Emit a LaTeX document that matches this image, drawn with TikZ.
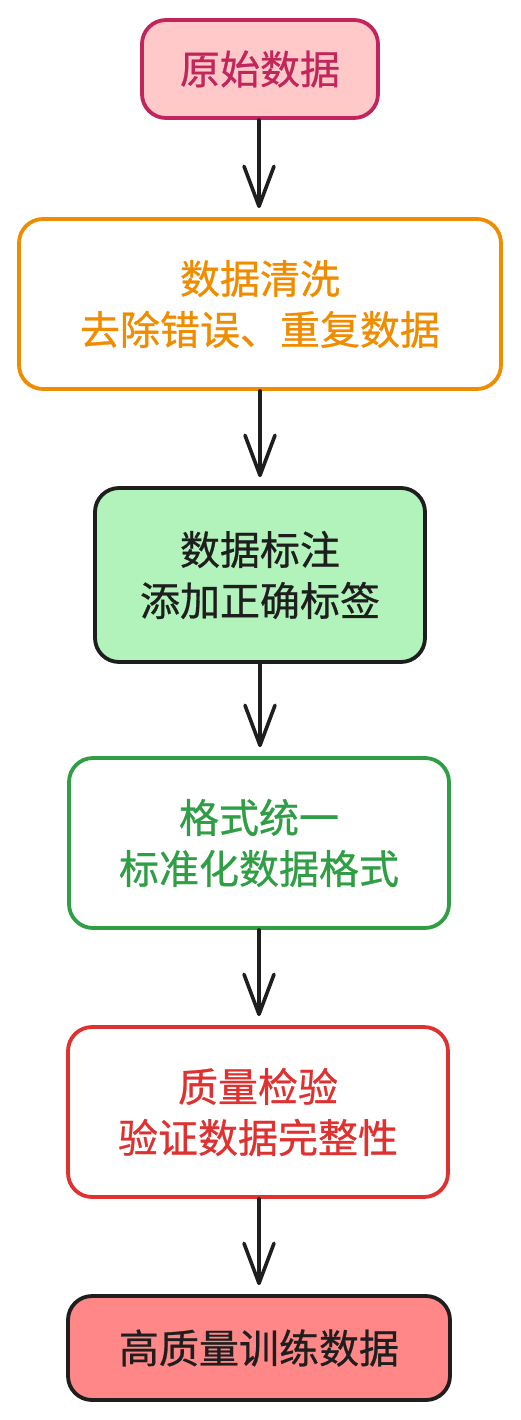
\documentclass[tikz,border=0pt]{standalone}
\usepackage{fontspec}
\newfontfamily\cjk[FakeBold=0.7]{Noto Sans CJK SC}
\usetikzlibrary{arrows.meta}
\definecolor{crimson}{HTML}{C2255C}
\definecolor{pinkfill}{HTML}{FFC9C9}
\definecolor{orangec}{HTML}{F08C00}
\definecolor{greenfill}{HTML}{B2F2BB}
\definecolor{inkc}{HTML}{1E1E1E}
\definecolor{greenc}{HTML}{2F9E44}
\definecolor{redc}{HTML}{E03131}
\definecolor{salmon}{HTML}{FF8787}
\tikzset{
  box/.style={draw, rounded corners=24pt, line width=3.8pt, align=center,
    font=\cjk\fontsize{40pt}{51pt}\selectfont, inner sep=0pt},
  flow/.style={draw=inkc, line width=3.6pt, line cap=round,
    -{Straight Barb[length=40pt,width=30pt,line width=3.6pt,round]}, shorten >=9pt}
}
\begin{document}
\begin{tikzpicture}[x=1pt,y=-1pt]
\useasboundingbox[fill=white] (0,0) rectangle (520,1420);
\node[box, draw=crimson, fill=pinkfill, text=crimson, minimum width=236pt, minimum height=98pt] (n1) at (260,69) {原始数据};
\node[box, draw=orangec, fill=white, text=orangec, minimum width=482pt, minimum height=170pt] (n2) at (260,304) {数据清洗\\去除错误、重复数据};
\node[box, draw=inkc, fill=greenfill, text=inkc, minimum width=330pt, minimum height=174pt] (n3) at (260,575) {数据标注\\添加正确标签};
\node[box, draw=greenc, fill=white, text=greenc, minimum width=380pt, minimum height=170pt] (n4) at (259,843) {格式统一\\标准化数据格式};
\node[box, draw=redc, fill=white, text=redc, minimum width=380pt, minimum height=170pt] (n5) at (258,1112) {质量检验\\验证数据完整性};
\node[box, draw=inkc, fill=salmon, text=inkc, minimum width=382pt, minimum height=104pt] (n6) at (259,1348) {高质量训练数据};
\draw[flow] (n1.south -| 259,0) -- (n2.north -| 259,0);
\draw[flow] (n2.south -| 260,0) -- (n3.north -| 260,0);
\draw[flow] (n3.south -| 260,0) -- (n4.north -| 260,0);
\draw[flow] (n4.south -| 259,0) -- (n5.north -| 259,0);
\draw[flow] (n5.south -| 259,0) -- (n6.north -| 259,0);
\end{tikzpicture}
\end{document}
